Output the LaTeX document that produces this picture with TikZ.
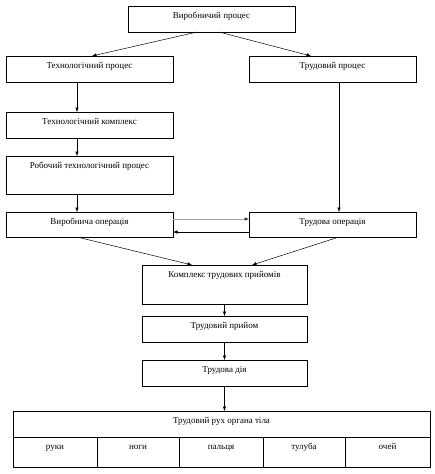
\documentclass[tikz,border=0pt]{standalone}
\usepackage{fontspec}
\setmainfont{Liberation Serif}
\usetikzlibrary{arrows.meta}
\begin{document}
\begin{tikzpicture}[x=1pt,y=-1pt,
 box/.style={draw, line width=0.6pt, anchor=north west, inner sep=0pt, outer sep=0pt},
 lbl/.style={anchor=base, yshift=-12pt, inner sep=0pt, font=\fontsize{9}{10}\selectfont},
 wbox/.style={box, minimum width=167pt, minimum height=26pt},
 cbox/.style={box, minimum width=165pt, minimum height=26pt},
 arr/.style={-{Latex[length=4.5pt,width=3.5pt]}, line width=0.5pt}]
\useasboundingbox[fill=white] (0,0) rectangle (434,474);
% boxes
\node[wbox, label={[lbl]north:Виробничий процес}] (vp) at (128,6) {};
\node[wbox, label={[lbl]north:Технологічний процес}] (tp) at (6,56) {};
\node[wbox, label={[lbl]north:Трудовий процес}] (trp) at (249,56) {};
\node[wbox, label={[lbl]north:Технологічний комплекс}] (tk) at (6,112) {};
\node[wbox, minimum height=38pt, label={[lbl]north:Робочий технологічний процес}] (rtp) at (6,156) {};
\node[wbox, minimum height=25pt, label={[lbl]north:Виробнича операція}] (vo) at (6,212) {};
\node[wbox, minimum height=25pt, label={[lbl]north:Трудова операція}] (to) at (249,212) {};
\node[cbox, minimum height=39pt, label={[lbl]north:Комплекс трудових прийомів}] (ktp) at (142,265) {};
\node[cbox, minimum height=26pt, label={[lbl]north:Трудовий прийом}] (pr) at (142,316) {};
\node[cbox, minimum height=26pt, label={[lbl]north:Трудова дія}] (td) at (142,360) {};
% table
\node[box, minimum width=417pt, minimum height=26pt, label={[lbl]north:Трудовий рух органа тіла}] (tr) at (13,411) {};
\node[box, minimum width=84pt, minimum height=30pt, label={[lbl]north:руки}] (c1) at (13,437) {};
\node[box, minimum width=82pt, minimum height=30pt, label={[lbl]north:ноги}] (c2) at (97,437) {};
\node[box, minimum width=84pt, minimum height=30pt, label={[lbl]north:пальця}] (c3) at (179,437) {};
\node[box, minimum width=82pt, minimum height=30pt, label={[lbl]north:тулуба}] (c4) at (263,437) {};
\node[box, minimum width=85pt, minimum height=30pt, label={[lbl]north:очей}] (c5) at (345,437) {};
% connectors
\draw[arr] ([xshift=-14.5pt]vp.south) -- ([xshift=2.5pt]tp.north);
\draw[arr] ([xshift=7.5pt]vp.south) -- ([xshift=-21.5pt]trp.north);
\draw[arr] ([xshift=-12.5pt]tp.south) -- ([xshift=-12.5pt]tk.north);
\draw[arr] ([xshift=-12.5pt]tk.south) -- ([xshift=-12.5pt]rtp.north);
\draw[arr] ([xshift=-12.5pt]rtp.south) -- ([xshift=-12.5pt]vo.north);
\draw[arr] ([xshift=6.5pt]trp.south) -- ([xshift=6.5pt]to.north);
\draw[-{Latex[length=4.5pt,width=3.5pt,color=black!80]}, line width=0.5pt, gray!70] ([yshift=5.5pt]vo.east) -- ([yshift=5.5pt]to.west);
\draw[arr] ([yshift=-7.5pt]to.west) -- ([yshift=-7.5pt]vo.east);
\draw[arr] ([xshift=-12.5pt]vo.south) -- ([xshift=-32.5pt]ktp.north);
\draw[arr] ([xshift=6.5pt]to.south) -- ([xshift=27.5pt]ktp.north);
\draw[arr] (ktp.south) -- (pr.north);
\draw[arr] (pr.south) -- (td.north);
\draw[arr] (td.south) -- (tr.north -| td.south);
\end{tikzpicture}
\end{document}
